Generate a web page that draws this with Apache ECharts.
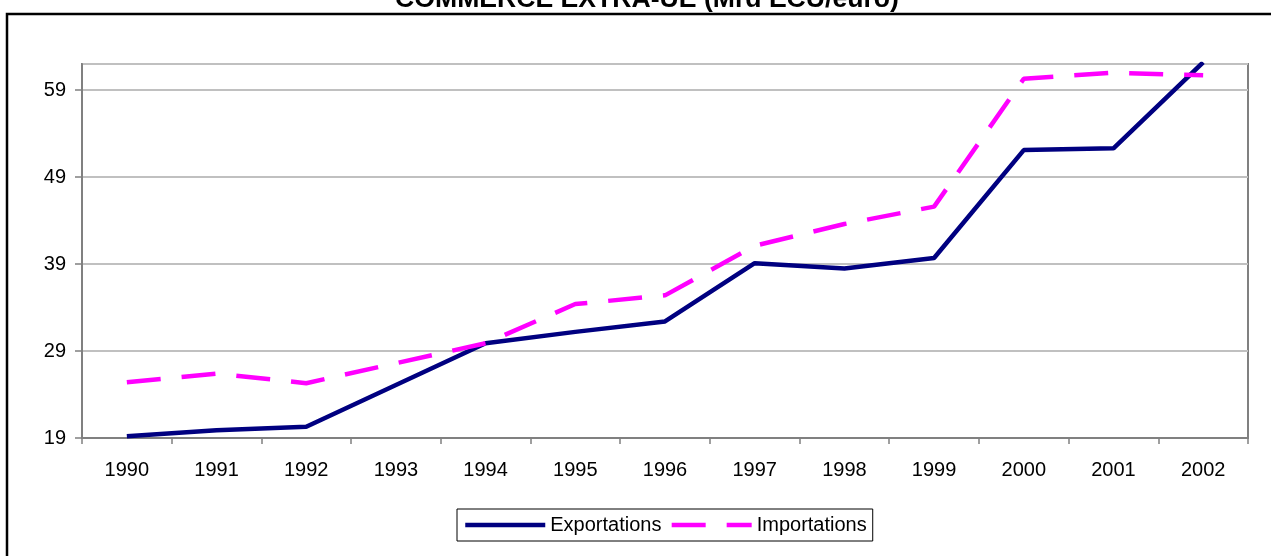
<!DOCTYPE html>
<html>
<head>
<meta charset="utf-8">
<script src="https://cdn.jsdelivr.net/npm/echarts@6/dist/echarts.min.js"></script>
<style>
  html, body { margin: 0; padding: 0; background: #fff; }
  #chart { width: 1271px; height: 556px; }
</style>
</head>
<body>
<div id="chart"></div>
<script>
  // COMMERCE EXTRA-UE (Mrd ECU/euro)
  var years = ['1990', '1991', '1992', '1993', '1994', '1995', '1996', '1997', '1998', '1999', '2000', '2001', '2002'];
  var exportations = [19.2, 19.9, 20.3, 25.1, 29.9, 31.2, 32.4, 39.1, 38.5, 39.7, 52.1, 52.3, 62.2];
  var importations = [25.4, 26.4, 25.3, 27.6, 29.9, 34.4, 35.4, 41.1, 43.6, 45.6, 60.3, 61.0, 60.7];
  var yMin = 19, yMax = 62, yStep = 10;

  var myChart = echarts.init(document.getElementById('chart'));
  var font = 'Liberation Sans, Arial, sans-serif';

  var option = {
    backgroundColor: '#fff',
    animation: false,
    graphic: [
      {
        type: 'rect',
        shape: { x: 7, y: 14, width: 1290, height: 570 },
        style: { fill: 'none', stroke: '#000', lineWidth: 2.5 },
        z: 100
      },
      {
        type: 'text',
        x: 647, y: 0,
        style: {
          text: 'COMMERCE EXTRA-UE (Mrd ECU/euro)',
          font: 'bold 26.6px ' + font,
          fill: '#000',
          textAlign: 'center',
          textVerticalAlign: 'middle'
        }
      }
    ],
    grid: {
      left: 82,
      right: 23,
      top: 64,
      bottom: 118,
      show: true,
      borderColor: '#808080',
      borderWidth: 2,
      backgroundColor: '#fff'
    },
    legend: {
      left: 457,
      top: 509,
      padding: [6, 6],
      itemGap: 8,
      itemWidth: 80,
      itemHeight: 14,
      borderColor: '#000',
      borderWidth: 1,
      itemStyle: { opacity: 0 },
      lineStyle: { width: 4.5 },
      textStyle: { fontFamily: font, fontSize: 20, color: '#000' },
      data: ['Exportations', 'Importations']
    },
    xAxis: {
      type: 'category',
      data: years,
      boundaryGap: true,
      axisLine: { lineStyle: { color: '#808080', width: 2 } },
      axisTick: { show: true, length: 6, lineStyle: { color: '#808080', width: 1.5 } },
      axisLabel: { fontFamily: font, fontSize: 20, color: '#000', margin: 22 }
    },
    yAxis: {
      type: 'value',
      min: yMin,
      max: yMax,
      interval: yStep,
      axisLine: { show: true, lineStyle: { color: '#808080', width: 2 } },
      axisTick: { show: true, length: 7, lineStyle: { color: '#808080', width: 1.5 } },
      axisLabel: { fontFamily: font, fontSize: 20, color: '#000', margin: 16, showMaxLabel: false },
      splitLine: { lineStyle: { color: '#c0c0c0', width: 2 } }
    },
    series: [
      {
        name: 'Exportations',
        type: 'line',
        data: exportations,
        symbol: 'none',
        clip: true,
        color: '#000080',
        lineStyle: { color: '#000080', width: 4.5 }
      },
      {
        name: 'Importations',
        type: 'line',
        data: importations,
        symbol: 'none',
        clip: true,
        color: '#ff00ff',
        lineStyle: { color: '#ff00ff', width: 4.5, type: [34, 21] }
      }
    ]
  };
  myChart.setOption(option);
</script>
</body>
</html>
